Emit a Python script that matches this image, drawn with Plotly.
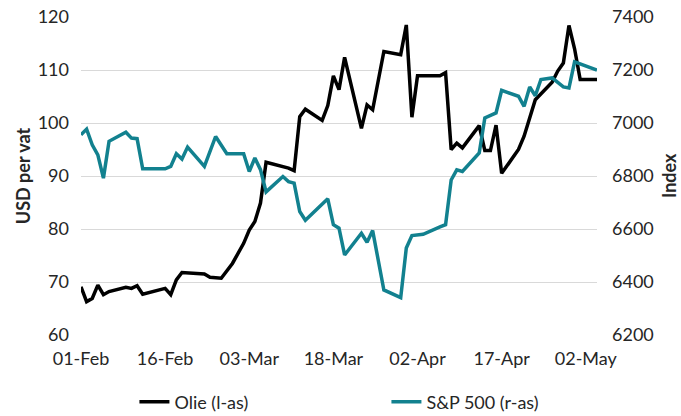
import plotly.graph_objects as go

# --- Olie (Brent, USD per vat), left axis ---
olie_dates = [
    "2026-02-01", "2026-02-02", "2026-02-03", "2026-02-04", "2026-02-05", "2026-02-06",
    "2026-02-09", "2026-02-10", "2026-02-11", "2026-02-12", "2026-02-16", "2026-02-17",
    "2026-02-18", "2026-02-19", "2026-02-23", "2026-02-24", "2026-02-26", "2026-02-28",
    "2026-03-02", "2026-03-03", "2026-03-04", "2026-03-05", "2026-03-06", "2026-03-10",
    "2026-03-11", "2026-03-12", "2026-03-13", "2026-03-16", "2026-03-17", "2026-03-18",
    "2026-03-19", "2026-03-20", "2026-03-23", "2026-03-24", "2026-03-25", "2026-03-27",
    "2026-03-30", "2026-03-31", "2026-04-01", "2026-04-02", "2026-04-06", "2026-04-07",
    "2026-04-08", "2026-04-09", "2026-04-10", "2026-04-13", "2026-04-14", "2026-04-15",
    "2026-04-16", "2026-04-17", "2026-04-20", "2026-04-21", "2026-04-23", "2026-04-26",
    "2026-04-27", "2026-04-28", "2026-04-29", "2026-04-30", "2026-05-01", "2026-05-04",
]
olie_values = [
    69.1, 66.3, 66.9, 69.4, 67.6, 68.2,
    69.0, 68.8, 69.3, 67.7, 68.8, 67.6,
    70.4, 71.8, 71.5, 70.9, 70.7, 73.5,
    77.3, 79.8, 81.4, 84.9, 92.6, 91.5,
    91.0, 101.2, 102.6, 100.5, 103.3, 108.9,
    106.3, 112.4, 99.0, 103.4, 102.5, 113.5,
    112.9, 118.5, 101.1, 108.9, 108.9, 109.5,
    95.0, 96.2, 95.3, 99.5, 94.8, 94.8,
    99.6, 90.5, 95.0, 97.5, 104.4, 107.7,
    109.8, 111.3, 118.4, 114.0, 108.2, 108.2,
]

# --- S&P 500 (index), right axis ---
sp_dates = [
    "2026-02-01", "2026-02-02", "2026-02-03", "2026-02-04", "2026-02-05", "2026-02-06",
    "2026-02-09", "2026-02-10", "2026-02-11", "2026-02-12", "2026-02-16", "2026-02-17",
    "2026-02-18", "2026-02-19", "2026-02-20", "2026-02-23", "2026-02-25", "2026-02-27",
    "2026-03-02", "2026-03-03", "2026-03-04", "2026-03-05", "2026-03-06", "2026-03-09",
    "2026-03-10", "2026-03-11", "2026-03-12", "2026-03-13", "2026-03-17", "2026-03-18",
    "2026-03-19", "2026-03-20", "2026-03-23", "2026-03-24", "2026-03-25", "2026-03-27",
    "2026-03-30", "2026-03-31", "2026-04-01", "2026-04-03", "2026-04-06", "2026-04-07",
    "2026-04-08", "2026-04-09", "2026-04-10", "2026-04-13", "2026-04-14", "2026-04-16",
    "2026-04-17", "2026-04-20", "2026-04-21", "2026-04-22", "2026-04-23", "2026-04-24",
    "2026-04-26", "2026-04-28", "2026-04-29", "2026-04-30", "2026-05-04",
]
sp_values = [
    6956, 6977, 6918, 6880, 6792, 6931,
    6965, 6943, 6941, 6827, 6827, 6836,
    6884, 6864, 6909, 6836, 6949, 6884,
    6884, 6817, 6868, 6824, 6740, 6798,
    6779, 6773, 6666, 6633, 6714, 6616,
    6603, 6502, 6584, 6550, 6594, 6370,
    6341, 6528, 6575, 6580, 6608, 6616,
    6785, 6823, 6817, 6887, 7019, 7038,
    7123, 7101, 7063, 7136, 7103, 7164,
    7170, 7136, 7132, 7231, 7200,
]

left_ticks = [60, 70, 80, 90, 100, 110, 120]
right_ticks = [6200, 6400, 6600, 6800, 7000, 7200, 7400]
x_ticks = ["2026-02-01", "2026-02-16", "2026-03-03", "2026-03-18",
           "2026-04-02", "2026-04-17", "2026-05-02"]

TEAL = "#12818f"
TXT = "#262626"
FONT = "Lato, 'Open Sans', sans-serif"
FS = 18

fig = go.Figure()
fig.add_trace(go.Scatter(
    x=olie_dates, y=olie_values, name="Olie (l-as)", mode="lines",
    line=dict(color="#000000", width=3.5), yaxis="y",
))
fig.add_trace(go.Scatter(
    x=sp_dates, y=sp_values, name="S&P 500 (r-as)", mode="lines",
    line=dict(color=TEAL, width=3.5), yaxis="y2",
))

fig.update_layout(
    width=681, height=416,
    margin=dict(l=81, r=84, t=17, b=81, autoexpand=False),
    paper_bgcolor="white", plot_bgcolor="white",
    font=dict(family=FONT, size=FS, color=TXT),
    showlegend=True,
    legend=dict(
        orientation="h", xref="container", yref="container",
        x=0.1974, xanchor="left", y=14 / 416, yanchor="middle",
        entrywidth=207, entrywidthmode="pixels",
        font=dict(size=FS, color=TXT),
        bgcolor="rgba(0,0,0,0)",
    ),
    xaxis=dict(
        type="date", range=["2026-02-01", "2026-05-04"],
        tickvals=x_ticks, tickformat="%d-%b",
        showgrid=False, zeroline=False, showline=False, ticks="",
        ticklabelstandoff=11, automargin=False,
        tickfont=dict(size=FS, color=TXT),
    ),
    yaxis=dict(
        range=[60, 120], tickvals=left_ticks,
        showgrid=True, gridcolor="#d9d9d9", gridwidth=1.3,
        zeroline=False, showline=False, ticks="",
        ticklabelstandoff=11, automargin=False,
        title=dict(text="USD per vat", font=dict(size=FS, color=TXT, weight="bold"), standoff=2),
        tickfont=dict(size=FS, color=TXT),
    ),
    yaxis2=dict(
        range=[6200, 7400], tickvals=right_ticks,
        overlaying="y", side="right",
        showgrid=False, zeroline=False, showline=False, ticks="",
        ticklabelstandoff=14, automargin=False,
        tickfont=dict(size=FS, color=TXT),
    ),
    annotations=[dict(
        text="Index", textangle=-90, showarrow=False,
        xref="paper", yref="paper", x=1, y=0.5,
        xanchor="center", yanchor="middle", xshift=72,
        font=dict(size=FS, color=TXT, family=FONT, weight="bold"),
    )],
)

fig.write_html(
    "out.html",
    config={"displayModeBar": False},
    post_script="document.body.style.margin='0';document.body.style.padding='0';",
)
